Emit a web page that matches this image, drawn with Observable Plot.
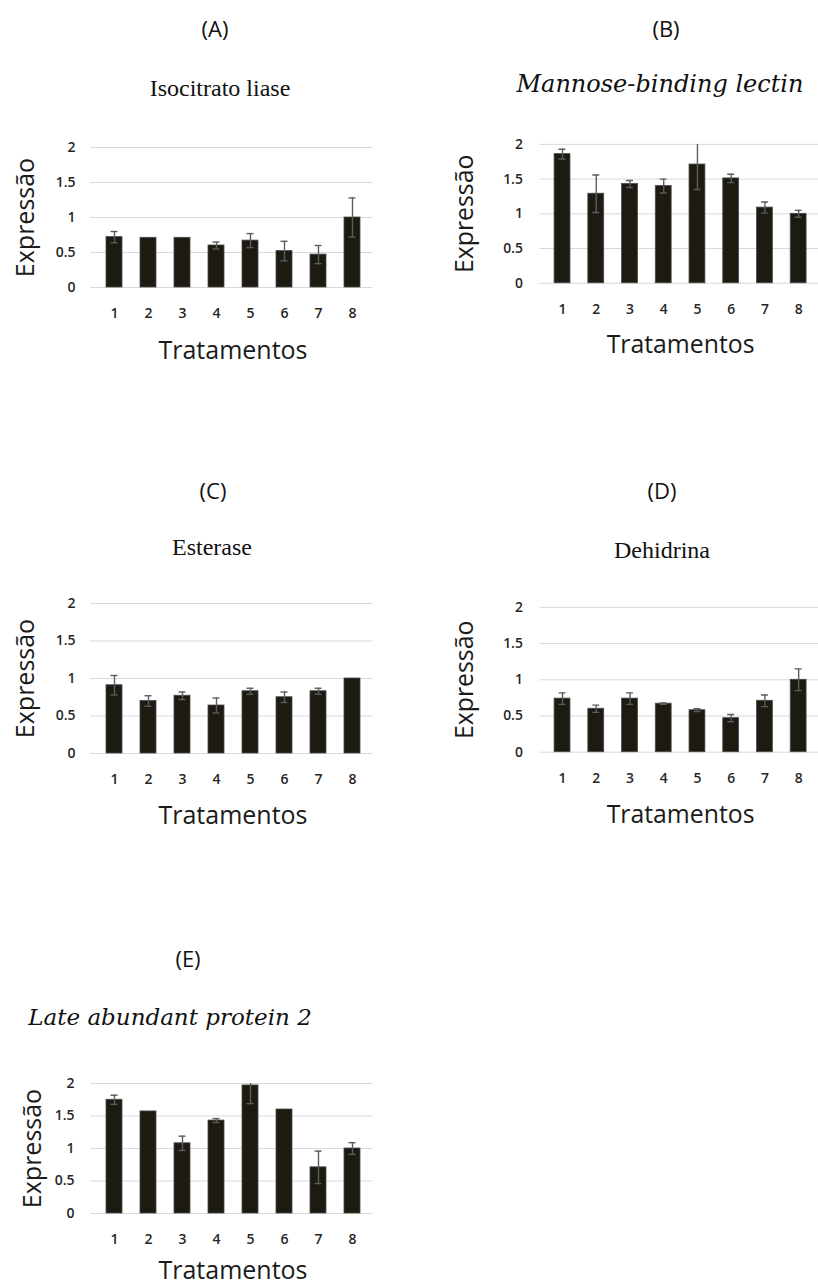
<!DOCTYPE html>
<html>
<head>
<meta charset="utf-8">
<script src="https://cdn.jsdelivr.net/npm/d3@7"></script>
<script src="https://cdn.jsdelivr.net/npm/@observablehq/plot@0.6"></script>
<style>
  html, body { margin: 0; padding: 0; background: #fff; overflow: hidden; }
  #page { position: relative; width: 818px; height: 1288px; background: #fff; overflow: hidden; }
  .panel { position: absolute; }
  .lbl { position: absolute; transform: translate(-50%, -50%); white-space: nowrap; color: #111; line-height: 1; }
  .letter { font-family: "Open Sans", sans-serif; font-size: 22px; }
  .gene { font-family: "Liberation Serif", serif; font-size: 24px; }
  .gene.it { font-family: "DejaVu Serif", serif; font-style: italic; }
</style>
</head>
<body>
<div id="page"></div>
<script>
// ---- data ----
const treatments = ["1", "2", "3", "4", "5", "6", "7", "8"];
const yTicks = [0, 0.5, 1, 1.5, 2];

const letters = ["(A)", "(B)", "(C)", "(D)", "(E)"];
const genes = ["Isocitrato liase", "Mannose-binding lectin", "Esterase", "Dehidrina", "Late abundant protein 2"];

const isocitratoValues = [0.72, 0.71, 0.71, 0.60, 0.67, 0.52, 0.47, 1.00];
const isocitratoErrors = [0.08, 0, 0, 0.05, 0.10, 0.14, 0.13, 0.28];

const mannoseValues = [1.86, 1.29, 1.43, 1.40, 1.71, 1.51, 1.09, 1.00];
const mannoseErrors = [0.07, 0.27, 0.05, 0.10, 0.36, 0.06, 0.08, 0.05];

const esteraseValues = [0.91, 0.70, 0.77, 0.64, 0.83, 0.75, 0.83, 1.00];
const esteraseErrors = [0.13, 0.07, 0.05, 0.10, 0.04, 0.07, 0.04, 0];

const dehidrinaValues = [0.74, 0.60, 0.74, 0.67, 0.58, 0.47, 0.71, 1.00];
const dehidrinaErrors = [0.08, 0.05, 0.08, 0.01, 0.02, 0.05, 0.08, 0.15];

const leaValues = [1.75, 1.57, 1.08, 1.43, 1.97, 1.60, 0.71, 1.00];
const leaErrors = [0.07, 0, 0.11, 0.03, 0.28, 0, 0.25, 0.09];

// ---- layout (positions only) ----
const panels = [
  {values: isocitratoValues, errors: isocitratoErrors, left: 0, top: 130, width: 400, height: 240,
   mL: 93, mR: 28, mT: 17, mB: 83, yPad: 18, xPad: 21, labDy: 63, yLabDx: -68,
   letterPos: [215, 28], genePos: [220, 88], italic: false, geneSize: 24},
  {values: mannoseValues, errors: mannoseErrors, left: 440, top: 130, width: 381, height: 240,
   mL: 103, mR: 0, mT: 14, mB: 86, yPad: 20, xPad: 21, labDy: 62, yLabDx: -78,
   letterPos: [666, 28], genePos: [660, 84], italic: true, geneSize: 24},
  {values: esteraseValues, errors: esteraseErrors, left: 0, top: 590, width: 400, height: 240,
   mL: 93, mR: 28, mT: 13, mB: 77, yPad: 18, xPad: 21, labDy: 62, yLabDx: -68,
   letterPos: [213, 490], genePos: [212, 547], italic: false, geneSize: 24},
  {values: dehidrinaValues, errors: dehidrinaErrors, left: 440, top: 590, width: 381, height: 240,
   mL: 103, mR: 0, mT: 17, mB: 77, yPad: 20, xPad: 21, labDy: 63, yLabDx: -78,
   letterPos: [662, 490], genePos: [662, 550], italic: false, geneSize: 24},
  {values: leaValues, errors: leaErrors, left: 0, top: 1060, width: 400, height: 228,
   mL: 93, mR: 28, mT: 23, mB: 75, yPad: 19, xPad: 21, labDy: 57, yLabDx: -61,
   letterPos: [188, 958], genePos: [170, 1017], italic: true, geneSize: 23}
];

const page = document.getElementById("page");
const barFill = "#1d1a12";
const errColor = "#5c5c5c";
const font = "'Open Sans', sans-serif";

panels.forEach((p, i) => {
  const data = treatments.map((t, k) => ({t, v: p.values[k], e: p.errors[k]}));
  const withErr = data.filter(d => d.e > 0);

  const chart = Plot.plot({
    width: p.width,
    height: p.height,
    marginLeft: p.mL,
    marginRight: p.mR,
    marginTop: p.mT,
    marginBottom: p.mB,
    style: {fontFamily: font, background: "transparent", overflow: "visible", color: "#222"},
    x: {domain: treatments, paddingInner: 0.54, paddingOuter: 0.27, axis: null},
    y: {domain: [0, 2], axis: null},
    marks: [
      Plot.ruleY(yTicks, {stroke: "#d9d9d9", strokeWidth: 1, insetLeft: -3}),
      Plot.barY(data, {x: "t", y: "v", fill: barFill, stroke: "#4a4a4a", strokeWidth: 0.8}),
      Plot.ruleX(withErr, {x: "t", y1: d => d.v - d.e, y2: d => d.v + d.e, stroke: errColor, strokeWidth: 1.4, clip: true}),
      Plot.tickY(withErr, {x: "t", y: d => d.v + d.e, stroke: errColor, strokeWidth: 1.4, insetLeft: 11.5, insetRight: 11.5, clip: true}),
      Plot.tickY(withErr, {x: "t", y: d => d.v - d.e, stroke: errColor, strokeWidth: 1.4, insetLeft: 11.5, insetRight: 11.5, clip: true}),
      Plot.axisY({ticks: yTicks, tickFormat: d => String(d), tickSize: 0, tickPadding: p.yPad, fontSize: 14, fontWeight: 600, fill: "#262626", label: null}),
      Plot.axisX({tickSize: 0, tickPadding: p.xPad, fontSize: 14, fontWeight: 600, fill: "#262626", label: null}),
      Plot.text(["Tratamentos"], {text: d => d, frameAnchor: "bottom", dy: p.labDy, lineAnchor: "middle", textAnchor: "middle", fontSize: 25, fill: "#1a1a1a"}),
      Plot.text(["Expressão"], {text: d => d, frameAnchor: "left", dx: p.yLabDx, rotate: -90, lineAnchor: "middle", textAnchor: "middle", fontSize: 25, fill: "#1a1a1a"})
    ]
  });

  const holder = document.createElement("div");
  holder.className = "panel";
  holder.style.left = p.left + "px";
  holder.style.top = p.top + "px";
  holder.appendChild(chart);
  page.appendChild(holder);

  const L = document.createElement("div");
  L.className = "lbl letter";
  L.textContent = letters[i];
  L.style.left = p.letterPos[0] + "px";
  L.style.top = p.letterPos[1] + "px";
  page.appendChild(L);

  const G = document.createElement("div");
  G.className = "lbl gene" + (p.italic ? " it" : "");
  G.textContent = genes[i];
  G.style.left = p.genePos[0] + "px";
  G.style.top = p.genePos[1] + "px";
  G.style.fontSize = p.geneSize + "px";
  page.appendChild(G);
});
</script>
</body>
</html>
